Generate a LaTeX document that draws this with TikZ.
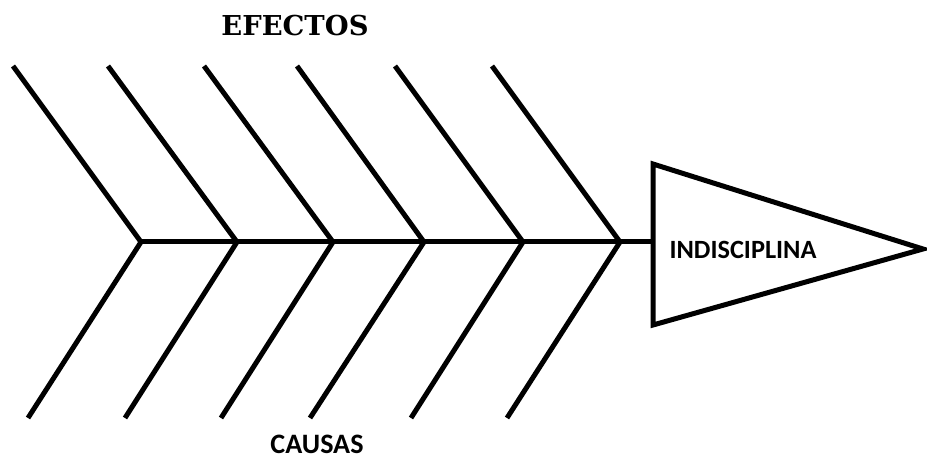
\documentclass[tikz,border=0pt]{standalone}
\usepackage{fontspec}
\setmainfont{DejaVu Serif}
\setsansfont{Carlito}
\usetikzlibrary{positioning,calc}

\begin{document}
\begin{tikzpicture}[x=0.02cm,y=-0.02cm,font=\sffamily\bfseries,bone/.style={line width=0.1cm,draw=black,line join=miter},lbl/.style={inner sep=0pt,anchor=center}]
 \useasboundingbox (0,0) rectangle (927,459);
 \coordinate (tl) at (653,164);
 \coordinate (bl) at (653,325);
 \coordinate (tip) at (923,249);
 \coordinate (head) at (653,242);
 \coordinate (tail) at (141,242);
 \draw[bone] (tl) -- (tip) -- (bl) -- cycle;
 \draw[bone] (tail) -- (head);
 \foreach \jx/\ux/\lx in {141/13/28,237/108/125,333/204/221,424/297/310,523/395/411,620/492/507}
  \draw[bone] (\ux,66) -- (\jx,242) -- (\lx,418);
 \node[lbl,font=\rmfamily\bfseries\fontsize{15.6}{19}\selectfont] (efectos) at (295,26) {EFECTOS};
 \node[lbl,font=\sffamily\bfseries\fontsize{16}{19}\selectfont] (causas) at (317,444) {CAUSAS};
 \node[lbl,font=\sffamily\bfseries\fontsize{15}{18}\selectfont] (efecto) at (743,250) {INDISCIPLINA};
\end{tikzpicture}
\end{document}
